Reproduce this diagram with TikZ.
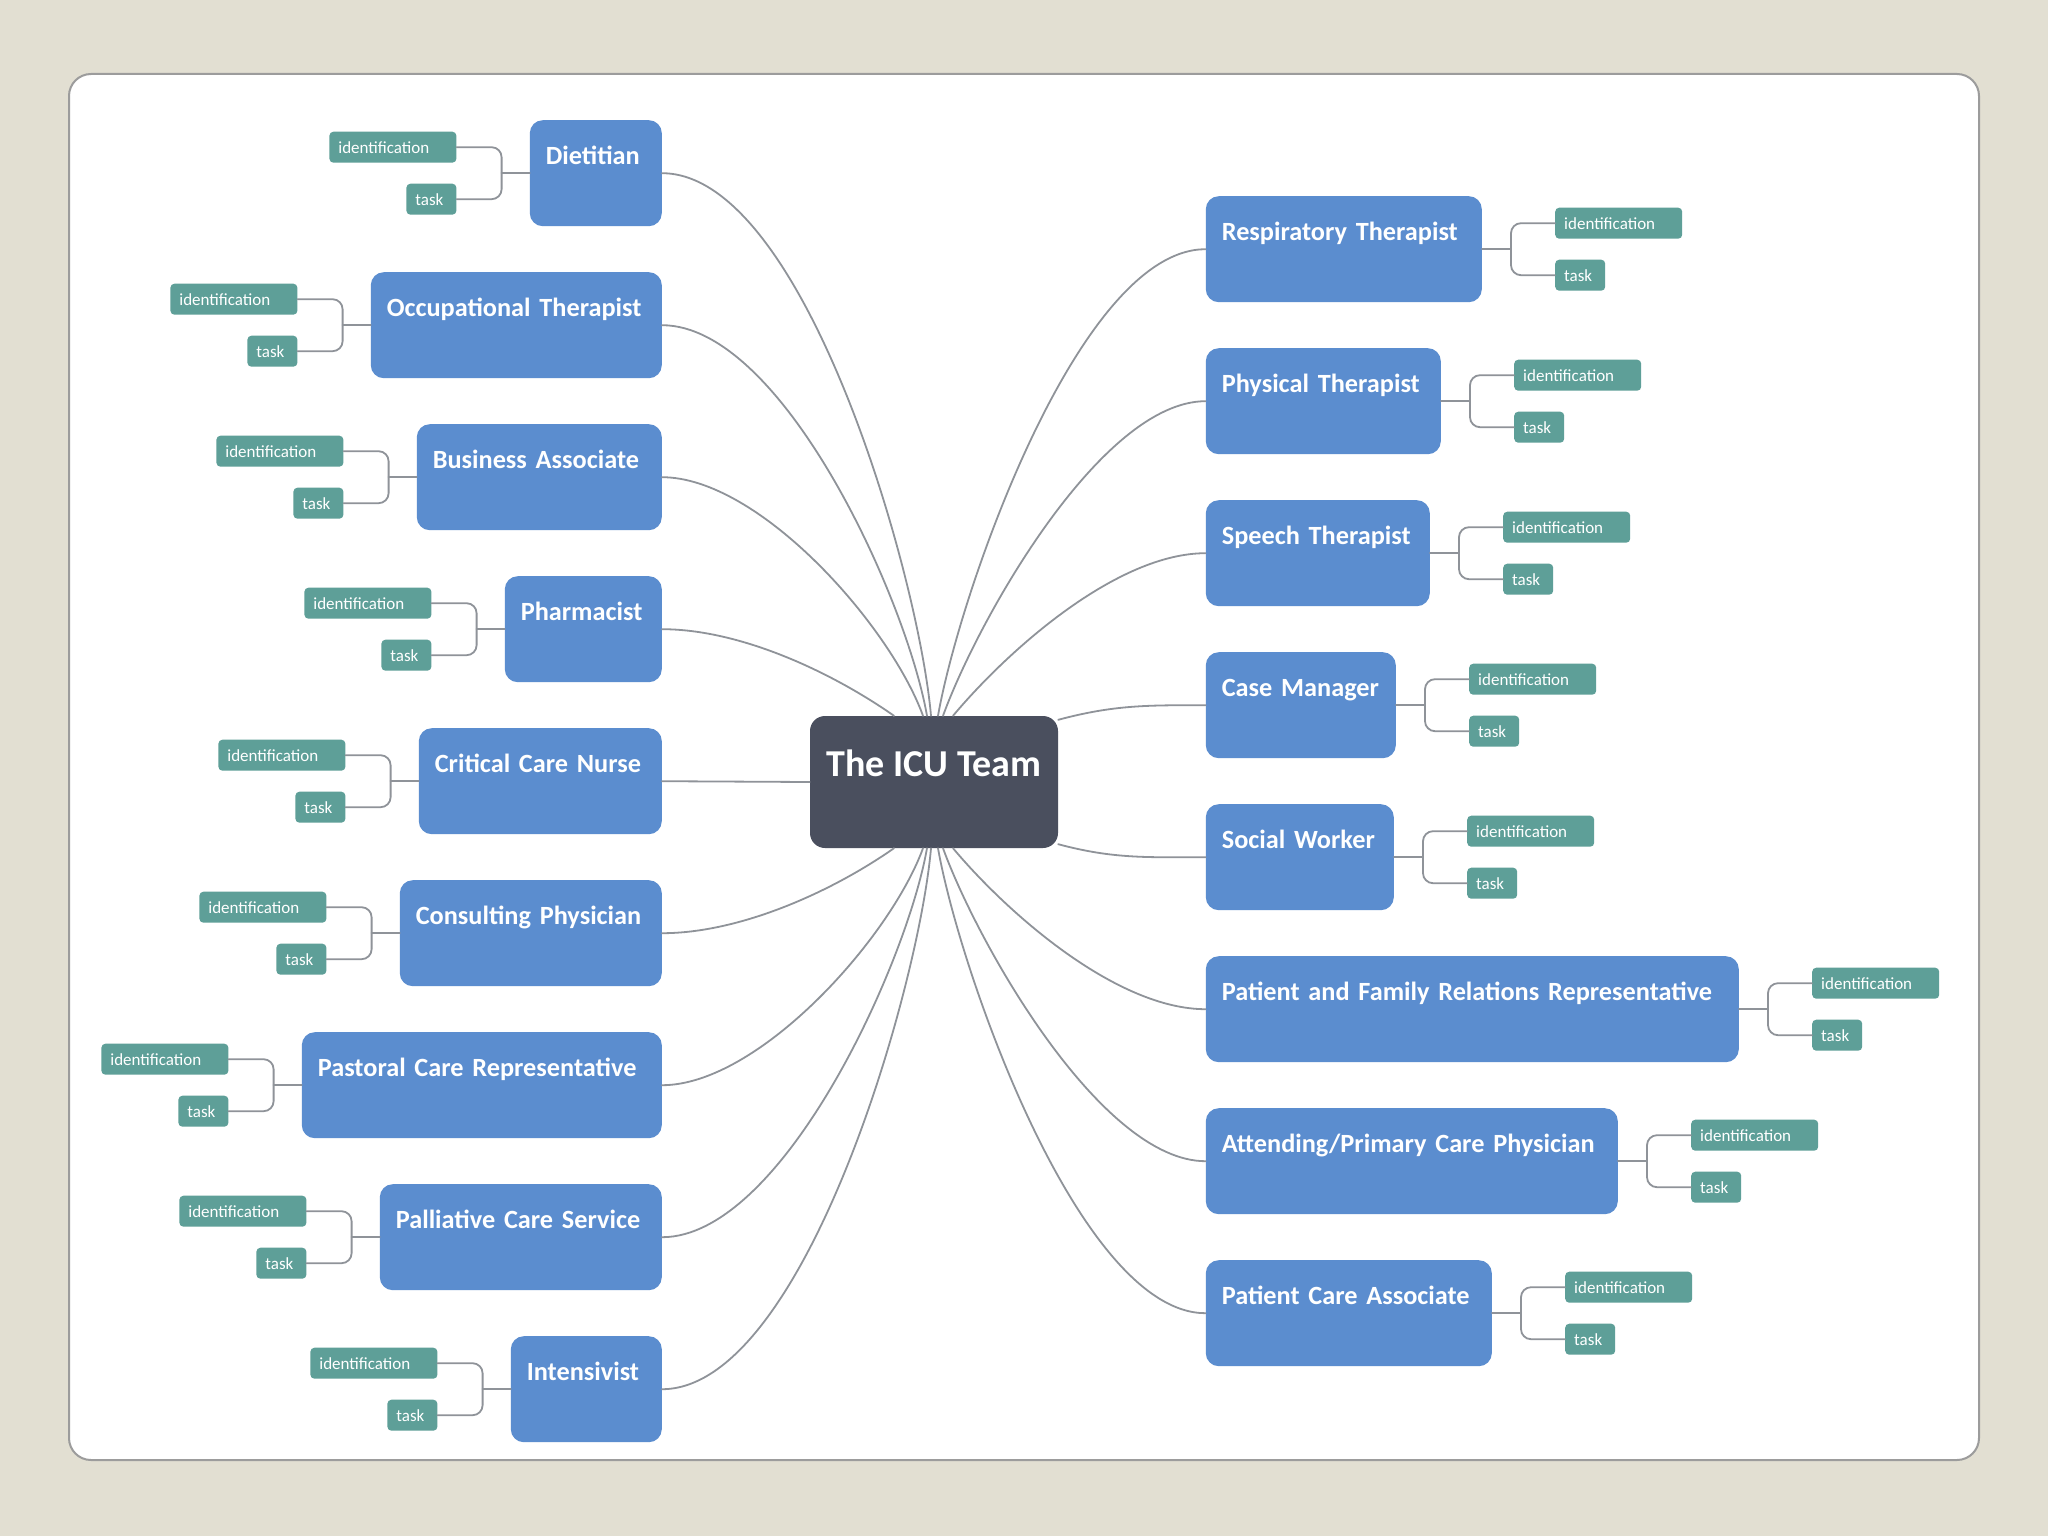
\documentclass[tikz,border=0pt]{standalone}
\usepackage{fontspec}
\setmainfont{Carlito}
\usetikzlibrary{calc}
\hyphenpenalty=10000
\exhyphenpenalty=10000

\definecolor{paper}{HTML}{E2DFD2}
\definecolor{cardedge}{HTML}{9C9C9C}
\definecolor{memberblue}{HTML}{5B8DCF}
\definecolor{tagteal}{HTML}{5E9F98}
\definecolor{hubslate}{HTML}{4A4F5E}
\definecolor{linkgray}{HTML}{8F9399}

\begin{document}
\begin{tikzpicture}[
		x=1pt, y=1pt,
		line cap=round,
		member/.style={fill=memberblue, rounded corners=13pt, text=white, align=left,
			inner xsep=16pt, inner ysep=0pt, text height=44pt, text depth=62pt,
			font=\fontsize{26.3}{30}\selectfont\bfseries},
		hub/.style={fill=hubslate, rounded corners=15pt, text=white, minimum width=248pt,
			inner sep=0pt, text height=60pt, text depth=72pt,
			font=\fontsize{38}{44}\selectfont\bfseries},
		idtag/.style={fill=tagteal, rounded corners=4pt, text=white, align=left,
			inner xsep=9pt, inner ysep=0pt, minimum height=31pt, text width=109pt,
			font=\fontsize{17}{20}\selectfont},
		tasktag/.style={idtag, text width=32pt},
		link/.style={draw=linkgray, line width=1.8pt},
		twig/.style={draw=linkgray, line width=1.8pt, rounded corners=10pt},
	]
		% page and card
		\fill[paper] (0,0) rectangle (2048,-1536);
		\useasboundingbox (0,0) rectangle (2048,-1536);
		\draw[cardedge, fill=white, line width=2pt, rounded corners=22pt] (69,-74) rectangle (1979,-1460);

		\node[hub] (hub) at (934,-782) {The ICU Team};

		% left side
		\node[member, text width=100pt, anchor=north east] (diet) at (662,-120) {Dietitian};
		\node[member, text width=259pt, anchor=north east] (occ) at (662,-272) {Occupational~Therapist};
		\node[member, text width=213pt, anchor=north east] (bus) at (662,-424) {Business~Associate};
		\node[member, text width=125pt, anchor=north east] (pharm) at (662,-576) {Pharmacist};
		\node[member, text width=211pt, anchor=north east] (ccn) at (662,-728) {Critical~Care~Nurse};
		\node[member, text width=230pt, anchor=north east] (cons) at (662,-880) {Consulting~Physician};
		\node[member, text width=328pt, anchor=north east] (past) at (662,-1032) {Pastoral~Care~Representative};
		\node[member, text width=250pt, anchor=north east] (pall) at (662,-1184) {Palliative~Care~Service};
		\node[member, text width=119pt, anchor=north east] (inten) at (662,-1336) {Intensivist};

		% right side
		\node[member, text width=244pt, anchor=north west] (resp) at (1205.6,-196) {Respiratory~Therapist};
		\node[member, text width=203pt, anchor=north west] (phys) at (1205.6,-348) {Physical~Therapist};
		\node[member, text width=192pt, anchor=north west] (speech) at (1205.6,-500) {Speech~Therapist};
		\node[member, text width=158pt, anchor=north west] (case) at (1205.6,-652) {Case~Manager};
		\node[member, text width=156pt, anchor=north west] (social) at (1205.6,-804) {Social~Worker};
		\node[member, text width=501pt, anchor=north west] (pfr) at (1205.6,-956) {Patient~and~Family~Relations~Representative};
		\node[member, text width=380pt, anchor=north west] (att) at (1205.6,-1108) {Attending/Primary~Care~Physician};
		\node[member, text width=254pt, anchor=north west] (pca) at (1205.6,-1260) {Patient~Care~Associate};

		% links from the hub
		\draw[link] ([xshift=-3pt]hub.north) to[out=95, in=0, looseness=0.6] (diet.east);
		\draw[link] ([xshift=-7pt]hub.north) to[out=100, in=0, looseness=0.65] (occ.east);
		\draw[link] ([xshift=-11pt]hub.north) to[out=110, in=0, looseness=0.7] (bus.east);
		\draw[link] ([xshift=-40pt]hub.north) to[out=145, in=0, looseness=0.8] (pharm.east);
		\draw[link] (hub.west) -- (ccn.east);
		\draw[link] ([xshift=-40pt]hub.south) to[out=215, in=0, looseness=0.8] (cons.east);
		\draw[link] ([xshift=-11pt]hub.south) to[out=250, in=0, looseness=0.7] (past.east);
		\draw[link] ([xshift=-7pt]hub.south) to[out=260, in=0, looseness=0.65] (pall.east);
		\draw[link] ([xshift=-3pt]hub.south) to[out=265, in=0, looseness=0.6] (inten.east);

		\draw[link] ([xshift=4pt]hub.north) to[out=80, in=180, looseness=0.6] (resp.west);
		\draw[link] ([xshift=9pt]hub.north) to[out=70, in=180, looseness=0.65] (phys.west);
		\draw[link] ([xshift=19pt]hub.north) to[out=50, in=180, looseness=0.75] (speech.west);
		\draw[link] ([yshift=-4pt]hub.north east) to[out=15, in=180] (case.west);
		\draw[link] ([yshift=4pt]hub.south east) to[out=-15, in=180] (social.west);
		\draw[link] ([xshift=19pt]hub.south) to[out=-50, in=180, looseness=0.75] (pfr.west);
		\draw[link] ([xshift=9pt]hub.south) to[out=-70, in=180, looseness=0.65] (att.west);
		\draw[link] ([xshift=4pt]hub.south) to[out=-80, in=180, looseness=0.6] (pca.west);

		% tags, left side
		\node[idtag, anchor=east] (dietI) at ($(diet.west)+(-73,26)$) {identification};
		\node[tasktag, anchor=east] (dietT) at ($(diet.west)+(-73,-26)$) {task};
		\coordinate (dietJ) at ($(diet.west)+(-28,0)$);
		\draw[twig] (dietI.east) -| (dietJ) |- (dietT.east);
		\draw[link] (dietJ) -- (diet.west);

		\node[idtag, anchor=east] (occI) at ($(occ.west)+(-73,26)$) {identification};
		\node[tasktag, anchor=east] (occT) at ($(occ.west)+(-73,-26)$) {task};
		\coordinate (occJ) at ($(occ.west)+(-28,0)$);
		\draw[twig] (occI.east) -| (occJ) |- (occT.east);
		\draw[link] (occJ) -- (occ.west);

		\node[idtag, anchor=east] (busI) at ($(bus.west)+(-73,26)$) {identification};
		\node[tasktag, anchor=east] (busT) at ($(bus.west)+(-73,-26)$) {task};
		\coordinate (busJ) at ($(bus.west)+(-28,0)$);
		\draw[twig] (busI.east) -| (busJ) |- (busT.east);
		\draw[link] (busJ) -- (bus.west);

		\node[idtag, anchor=east] (pharmI) at ($(pharm.west)+(-73,26)$) {identification};
		\node[tasktag, anchor=east] (pharmT) at ($(pharm.west)+(-73,-26)$) {task};
		\coordinate (pharmJ) at ($(pharm.west)+(-28,0)$);
		\draw[twig] (pharmI.east) -| (pharmJ) |- (pharmT.east);
		\draw[link] (pharmJ) -- (pharm.west);

		\node[idtag, anchor=east] (ccnI) at ($(ccn.west)+(-73,26)$) {identification};
		\node[tasktag, anchor=east] (ccnT) at ($(ccn.west)+(-73,-26)$) {task};
		\coordinate (ccnJ) at ($(ccn.west)+(-28,0)$);
		\draw[twig] (ccnI.east) -| (ccnJ) |- (ccnT.east);
		\draw[link] (ccnJ) -- (ccn.west);

		\node[idtag, anchor=east] (consI) at ($(cons.west)+(-73,26)$) {identification};
		\node[tasktag, anchor=east] (consT) at ($(cons.west)+(-73,-26)$) {task};
		\coordinate (consJ) at ($(cons.west)+(-28,0)$);
		\draw[twig] (consI.east) -| (consJ) |- (consT.east);
		\draw[link] (consJ) -- (cons.west);

		\node[idtag, anchor=east] (pastI) at ($(past.west)+(-73,26)$) {identification};
		\node[tasktag, anchor=east] (pastT) at ($(past.west)+(-73,-26)$) {task};
		\coordinate (pastJ) at ($(past.west)+(-28,0)$);
		\draw[twig] (pastI.east) -| (pastJ) |- (pastT.east);
		\draw[link] (pastJ) -- (past.west);

		\node[idtag, anchor=east] (pallI) at ($(pall.west)+(-73,26)$) {identification};
		\node[tasktag, anchor=east] (pallT) at ($(pall.west)+(-73,-26)$) {task};
		\coordinate (pallJ) at ($(pall.west)+(-28,0)$);
		\draw[twig] (pallI.east) -| (pallJ) |- (pallT.east);
		\draw[link] (pallJ) -- (pall.west);

		\node[idtag, anchor=east] (intenI) at ($(inten.west)+(-73,26)$) {identification};
		\node[tasktag, anchor=east] (intenT) at ($(inten.west)+(-73,-26)$) {task};
		\coordinate (intenJ) at ($(inten.west)+(-28,0)$);
		\draw[twig] (intenI.east) -| (intenJ) |- (intenT.east);
		\draw[link] (intenJ) -- (inten.west);

		% tags, right side
		\node[idtag, anchor=west] (respI) at ($(resp.east)+(73,26)$) {identification};
		\node[tasktag, anchor=west] (respT) at ($(resp.east)+(73,-26)$) {task};
		\coordinate (respJ) at ($(resp.east)+(29,0)$);
		\draw[twig] (respI.west) -| (respJ) |- (respT.west);
		\draw[link] (resp.east) -- (respJ);

		\node[idtag, anchor=west] (physI) at ($(phys.east)+(73,26)$) {identification};
		\node[tasktag, anchor=west] (physT) at ($(phys.east)+(73,-26)$) {task};
		\coordinate (physJ) at ($(phys.east)+(29,0)$);
		\draw[twig] (physI.west) -| (physJ) |- (physT.west);
		\draw[link] (phys.east) -- (physJ);

		\node[idtag, anchor=west] (speechI) at ($(speech.east)+(73,26)$) {identification};
		\node[tasktag, anchor=west] (speechT) at ($(speech.east)+(73,-26)$) {task};
		\coordinate (speechJ) at ($(speech.east)+(29,0)$);
		\draw[twig] (speechI.west) -| (speechJ) |- (speechT.west);
		\draw[link] (speech.east) -- (speechJ);

		\node[idtag, anchor=west] (caseI) at ($(case.east)+(73,26)$) {identification};
		\node[tasktag, anchor=west] (caseT) at ($(case.east)+(73,-26)$) {task};
		\coordinate (caseJ) at ($(case.east)+(29,0)$);
		\draw[twig] (caseI.west) -| (caseJ) |- (caseT.west);
		\draw[link] (case.east) -- (caseJ);

		\node[idtag, anchor=west] (socialI) at ($(social.east)+(73,26)$) {identification};
		\node[tasktag, anchor=west] (socialT) at ($(social.east)+(73,-26)$) {task};
		\coordinate (socialJ) at ($(social.east)+(29,0)$);
		\draw[twig] (socialI.west) -| (socialJ) |- (socialT.west);
		\draw[link] (social.east) -- (socialJ);

		\node[idtag, anchor=west] (pfrI) at ($(pfr.east)+(73,26)$) {identification};
		\node[tasktag, anchor=west] (pfrT) at ($(pfr.east)+(73,-26)$) {task};
		\coordinate (pfrJ) at ($(pfr.east)+(29,0)$);
		\draw[twig] (pfrI.west) -| (pfrJ) |- (pfrT.west);
		\draw[link] (pfr.east) -- (pfrJ);

		\node[idtag, anchor=west] (attI) at ($(att.east)+(73,26)$) {identification};
		\node[tasktag, anchor=west] (attT) at ($(att.east)+(73,-26)$) {task};
		\coordinate (attJ) at ($(att.east)+(29,0)$);
		\draw[twig] (attI.west) -| (attJ) |- (attT.west);
		\draw[link] (att.east) -- (attJ);

		\node[idtag, anchor=west] (pcaI) at ($(pca.east)+(73,26)$) {identification};
		\node[tasktag, anchor=west] (pcaT) at ($(pca.east)+(73,-26)$) {task};
		\coordinate (pcaJ) at ($(pca.east)+(29,0)$);
		\draw[twig] (pcaI.west) -| (pcaJ) |- (pcaT.west);
		\draw[link] (pca.east) -- (pcaJ);
	\end{tikzpicture}
\end{document}
